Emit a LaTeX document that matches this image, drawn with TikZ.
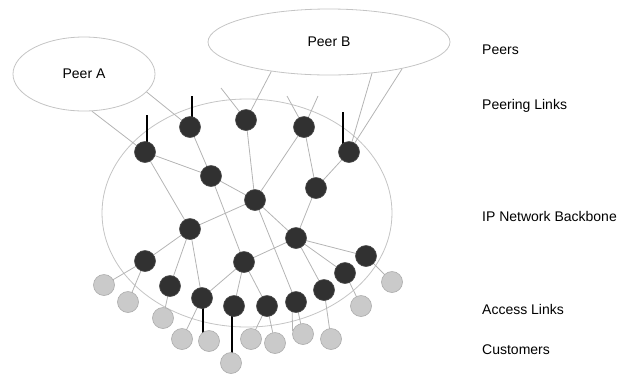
\documentclass[tikz,border=0pt]{standalone}
\usepackage{fontspec}
\setmainfont{Liberation Sans}
\usetikzlibrary{shapes.geometric,backgrounds}
\definecolor{linkgray}{HTML}{B4B4B4}
\definecolor{ringgray}{HTML}{C4C4C4}
\definecolor{routerfill}{HTML}{313131}
\definecolor{routeredge}{HTML}{4A4A4A}
\definecolor{custfill}{HTML}{CACACA}
\definecolor{custedge}{HTML}{ABABAB}
\begin{document}
\begin{tikzpicture}[x=1pt,y=-1pt,
  router/.style={circle,fill=routerfill,draw=routeredge,line width=0.6pt,minimum size=21pt,inner sep=0pt},
  customer/.style={circle,fill=custfill,draw=custedge,line width=0.6pt,minimum size=21pt,inner sep=0pt},
  link/.style={draw=linkgray,line width=0.8pt},
  access/.style={draw=black,line width=1.7pt},
  peer/.style={ellipse,draw=ringgray,line width=0.8pt,inner sep=0pt,font=\fontsize{14}{16}\selectfont},
  layerlabel/.style={anchor=west,inner sep=0pt,font=\fontsize{14}{16}\selectfont}]
\useasboundingbox (0,0) rectangle (635,376);

% peer networks
\node[peer,minimum width=142pt,minimum height=74pt] (peerA) at (84,74) {Peer A};
\node[peer,minimum width=242pt,minimum height=66pt] (peerB) at (329,42) {Peer B};

% backbone routers
\node[router] (n1)  at (145,152) {};
\node[router] (n2)  at (190,127) {};
\node[router] (n3)  at (246,120) {};
\node[router] (n4)  at (304,127) {};
\node[router] (n5)  at (349,152) {};
\node[router] (n6)  at (211,176) {};
\node[router] (n7)  at (316,188) {};
\node[router] (n8)  at (255,200) {};
\node[router] (n9)  at (190,229) {};
\node[router] (n10) at (296,238) {};
\node[router] (n11) at (145,261) {};
\node[router] (n12) at (244,262) {};
\node[router] (n13) at (366,256) {};
\node[router] (n14) at (170,286) {};
\node[router] (n15) at (345,273) {};
\node[router] (n16) at (202,298) {};
\node[router] (n17) at (324,290) {};
\node[router] (n18) at (234,306) {};
\node[router] (n19) at (267,306) {};
\node[router] (n20) at (296,302) {};

% customers
\node[customer] (ca) at (104,285) {};
\node[customer] (cb) at (128,302) {};
\node[customer] (cc) at (163,318) {};
\node[customer] (cd) at (182,339) {};
\node[customer] (ce) at (209,341) {};
\node[customer] (cf) at (231,363) {};
\node[customer] (cg) at (251,339) {};
\node[customer] (ch) at (275,343) {};
\node[customer] (ci) at (303,334) {};
\node[customer] (cj) at (331,339) {};
\node[customer] (ck) at (361,306) {};
\node[customer] (cl) at (392,282) {};

% loose ends of peering links
\coordinate (f3) at (221,88);
\coordinate (f4a) at (287,96);
\coordinate (f4b) at (318,96);
\coordinate (s1) at (147,115);
\coordinate (s2) at (192,96);
\coordinate (s5) at (343,112);

\begin{pgfonlayer}{background}
  % backbone boundary
  \draw[ringgray,line width=0.8pt] (247,213) ellipse [x radius=145, y radius=114];
  % peering links
  \draw[link] (peerA.-78) -- (n1.center);
  \draw[link] (peerA.-16) -- (n2.center);
  \draw[link] (peerB.-153) -- (n3.center);
  \draw[link] (peerB.-36) -- (n5.center);
  \draw[link] (peerB.-20) -- (n5.center);
  \draw[link] (f3) -- (n3.center);
  \draw[link] (f4a) -- (n4.center);
  \draw[link] (f4b) -- (n4.center);
  \draw[access] (s1) -- (s1 |- n1.center);
  \draw[access] (s2) -- (s2 |- n2.center);
  \draw[access] (s5) -- (s5 |- n5.center);
  % backbone links
  \draw[link] (n1.center) -- (n6.center);
  \draw[link] (n1.center) -- (n9.center);
  \draw[link] (n2.center) -- (n6.center);
  \draw[link] (n3.center) -- (n8.center);
  \draw[link] (n6.center) -- (n8.center);
  \draw[link] (n6.center) -- (n12.center);
  \draw[link] (n4.center) -- (n8.center);
  \draw[link] (n4.center) -- (n7.center);
  \draw[link] (n5.center) -- (n7.center);
  \draw[link] (n7.center) -- (n10.center);
  \draw[link] (n9.center) -- (n8.center);
  \draw[link] (n8.center) -- (n10.center);
  \draw[link] (n8.center) -- (n20.center);
  \draw[link] (n9.center) -- (n11.center);
  \draw[link] (n9.center) -- (n14.center);
  \draw[link] (n9.center) -- (n16.center);
  \draw[link] (n16.center) -- (n12.center);
  \draw[link] (n12.center) -- (n10.center);
  \draw[link] (n12.center) -- (n18.center);
  \draw[link] (n12.center) -- (n19.center);
  \draw[link] (n10.center) -- (n13.center);
  \draw[link] (n10.center) -- (n15.center);
  \draw[link] (n10.center) -- (n17.center);
  % access links
  \draw[link] (n11.center) -- (ca.center);
  \draw[link] (n11.center) -- (cb.center);
  \draw[link] (n14.center) -- (cc.center);
  \draw[link] (n16.center) -- (cd.center);
  \draw[access] ([xshift=-6pt]ce.center) -- ([xshift=-6pt]ce.center |- n16.center);
  \draw[access] ([xshift=1pt]cf.center) -- ([xshift=1pt]cf.center |- n18.center);
  \draw[link] (n19.center) -- (cg.center);
  \draw[link] (n19.center) -- (ch.center);
  \draw[link] (n20.center) -- (ci.center);
  \draw[link] ([xshift=-4pt]n20.center) -- (ci.165);
  \draw[link] (n17.center) -- (cj.center);
  \draw[link] (n15.center) -- (ck.center);
  \draw[link] (n13.center) -- (cl.center);
\end{pgfonlayer}

% layer captions
\node[layerlabel] (tPeers) at (482,50) {Peers};
\node[layerlabel] (tPeering) at (482,106) {Peering Links};
\node[layerlabel] (tBackbone) at (482,216) {IP Network Backbone};
\node[layerlabel] (tAccess) at (482,309) {Access Links};
\node[layerlabel] (tCustomers) at (482,350) {Customers};
\end{tikzpicture}
\end{document}
